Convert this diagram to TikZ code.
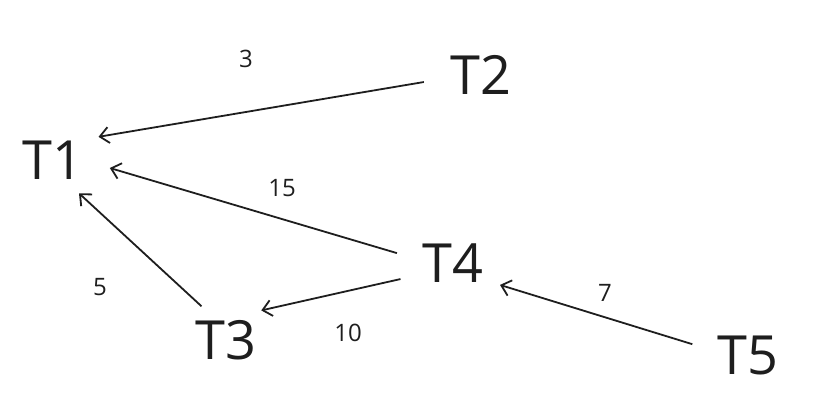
\documentclass[tikz,border=0pt]{standalone}
\usepackage{fontspec}
\setmainfont{Open Sans}
\usetikzlibrary{arrows.meta, shapes.geometric}
\definecolor{ink}{HTML}{1E1E1E}

\begin{document}
\begin{tikzpicture}[x=1pt, y=-1pt,
  task/.style={ellipse, minimum width=116pt, minimum height=74pt, inner sep=0pt,
    text=ink, font=\fontsize{54}{54}\selectfont},
  weight/.style={text=ink, font=\fontsize{24}{24}\selectfont},
  dep/.style={line width=1.8pt, draw=ink, -{Straight Barb[length=9pt,width=16pt]}}]
\useasboundingbox (0,0) rectangle (824,418);

\path (53,160) node[task] (t-1) {T1};
\path (481,75) node[task] (t-2) {T2};
\path (226,340) node[task] (t-3) {T3};
\path (453,263) node[task] (t-4) {T4};
\path (748,355) node[task] (t-5) {T5};

\path (246,59) node[weight] (w-21) {3};
\path (282,188) node[weight] (w-41) {15};
\path (100,287) node[weight] (w-31) {5};
\path (348,333) node[weight] (w-43) {10};
\path (605,293) node[weight] (w-54) {7};

\draw[dep] (t-2.187) -- (t-1.27);
\draw[dep] (t-4.170) -- (t-1.352);
\draw[dep] (t-3.126) -- (t-1.308);
\draw[dep] (t-4.197) -- (t-3.40);
\draw[dep] (t-5.169) -- (t-4.335);
\end{tikzpicture}
\end{document}
